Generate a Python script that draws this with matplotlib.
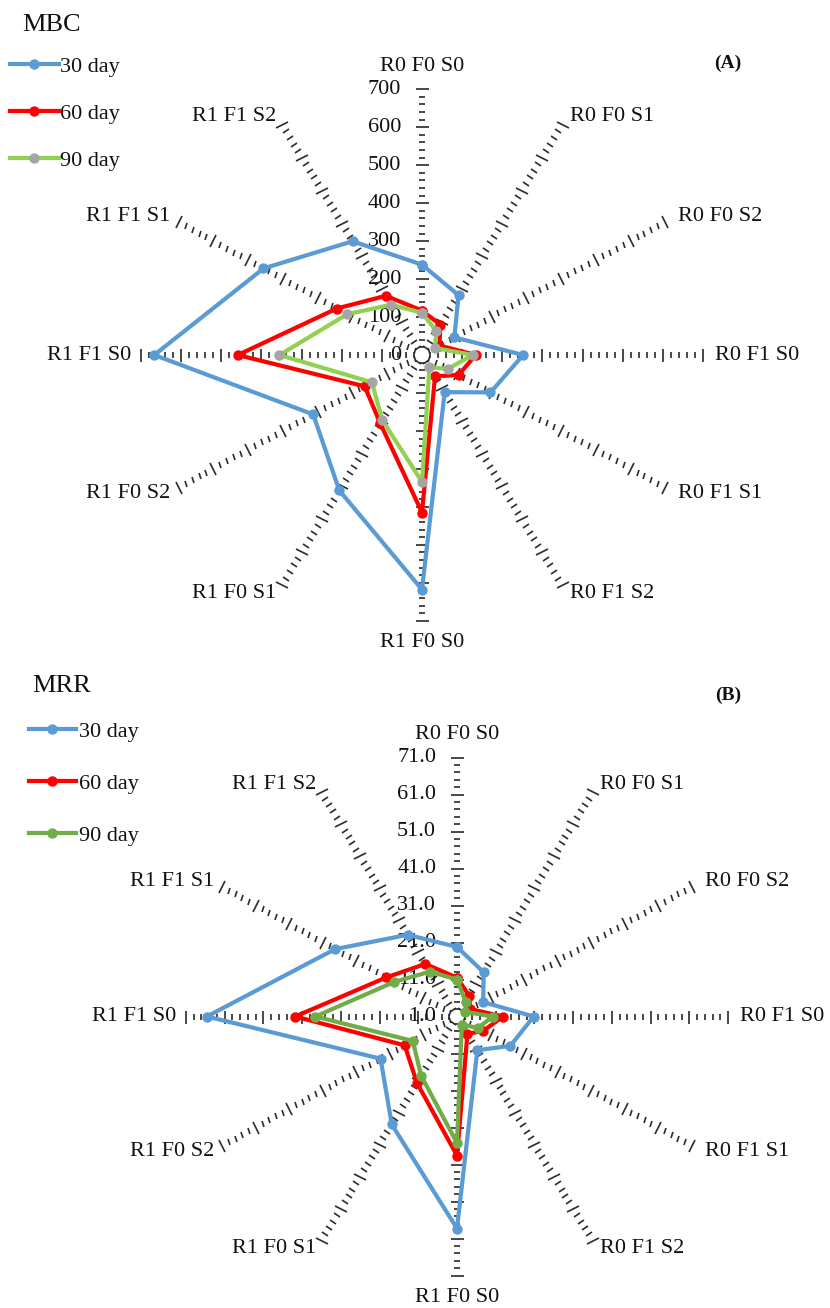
import numpy as np
import matplotlib
matplotlib.use("Agg")
import matplotlib.pyplot as plt
from matplotlib.markers import MarkerStyle
from matplotlib.transforms import Affine2D

plt.rcParams["font.family"] = ["Liberation Serif", "DejaVu Serif"]

# ---- data -------------------------------------------------------------
categories = ["R0 F0 S0", "R0 F0 S1", "R0 F0 S2", "R0 F1 S0", "R0 F1 S1", "R0 F1 S2",
              "R1 F0 S0", "R1 F0 S1", "R1 F0 S2", "R1 F1 S0", "R1 F1 S1", "R1 F1 S2"]
series_labels = ["30 day", "60 day", "90 day"]

mbc_30 = [238, 182, 93, 252, 197, 113, 618, 412, 313, 667, 456, 346]
mbc_60 = [117, 92, 50, 134, 105, 65, 415, 208, 165, 459, 245, 180]
mbc_90 = [111, 72, 37, 126, 74, 37, 334, 198, 144, 355, 215, 153]

mrr_30 = [19.8, 14.8, 8.8, 20.8, 16.9, 11.5, 58.3, 34.7, 23.8, 65.6, 37.4, 26.5]
mrr_60 = [11.5, 7.4, 5.0, 12.9, 8.8, 6.4, 38.6, 21.7, 16.6, 42.8, 22.1, 17.4]
mrr_90 = [11.0, 5.5, 3.5, 10.3, 7.2, 3.5, 35.2, 19.5, 14.2, 37.6, 19.7, 15.0]

mbc_ticks = [0, 100, 200, 300, 400, 500, 600, 700]
mbc_tick_labels = ["0", "100", "200", "300", "400", "500", "600", "700"]
mrr_ticks = [1.0, 11.0, 21.0, 31.0, 41.0, 51.0, 61.0, 71.0]
mrr_tick_labels = ["1.0", "11.0", "21.0", "31.0", "41.0", "51.0", "61.0", "71.0"]

# ---- styling ----------------------------------------------------------
W, H, DPI = 830, 1308, 100
PX = 72.0 / DPI  # points per pixel
BLUE, RED = "#5B9BD5", "#FF0000"
TEXT_C = "#111111"
TICK_C = "#2e2e2e"
FS = 16

fig = plt.figure(figsize=(W / DPI, H / DPI), dpi=DPI)
fig.patch.set_facecolor("white")

# label offsets (pixels) from the outer end of each spoke
label_offsets = [
    ((0, 23), "center"), ((7, 8), "left"), ((13, 5.5), "left"), ((12, 0), "left"),
    ((13, -5.5), "left"), ((7, -8), "left"), ((0, -22), "center"), ((-5, -8), "right"),
    ((-8, -5.5), "right"), ((-10, 0), "right"), ((-8, 5.5), "right"), ((-5, 8), "right"),
]


def radar_panel(box_px, rmin, rmax, minor, major, ticks, tick_labels, series,
                line_colors, marker_colors):
    x0, y0, x1, y1 = box_px  # pixel box: left, top, right, bottom
    rect = [x0 / W, 1 - y1 / H, (x1 - x0) / W, (y1 - y0) / H]
    ax = fig.add_axes(rect, projection="polar")
    ax.set_aspect("auto")
    ax.set_theta_zero_location("N")
    ax.set_theta_direction(-1)
    ax.set_ylim(rmin, rmax)
    ax.set_xticks([])
    ax.set_yticks([])
    ax.grid(False)
    for sp in ax.spines.values():
        sp.set_visible(False)
    ax.patch.set_visible(False)

    rx = (x1 - x0) / 2.0
    ry = (y1 - y0) / 2.0
    n = len(categories)
    theta = np.arange(n) * 2 * np.pi / n

    minor_r = np.arange(rmin + minor, rmax + minor / 2, minor)
    frac = ((minor_r - rmin) / major) % 1
    is_major = np.isclose(frac, 0) | np.isclose(frac, 1)
    # tick marks drawn across every spoke
    for i, th in enumerate(theta):
        phi = np.pi / 2 - th
        scr = np.degrees(np.arctan2(ry * np.sin(phi), rx * np.cos(phi)))
        mk = MarkerStyle("_", transform=Affine2D().rotate_deg(scr + 90))
        ax.plot(np.full((~is_major).sum(), th), minor_r[~is_major], ls="none",
                marker=mk, ms=6 * PX, mew=1.7 * PX, color=TICK_C,
                clip_on=False, zorder=1)
        ax.plot(np.full(is_major.sum(), th), minor_r[is_major], ls="none",
                marker=mk, ms=13 * PX, mew=1.7 * PX, color=TICK_C,
                clip_on=False, zorder=1)

    # value labels along the top spoke
    for v, lab in zip(ticks, tick_labels):
        ax.annotate(lab, xy=(0, v), xytext=(-15, 0), textcoords="offset points",
                    ha="right", va="center", fontsize=FS, color=TEXT_C,
                    annotation_clip=False)

    # category labels
    for th, cat, (off, ha) in zip(theta, categories, label_offsets):
        ax.annotate(cat, xy=(th, rmax), xytext=(off[0] * PX, off[1] * PX),
                    textcoords="offset points", ha=ha, va="center",
                    fontsize=FS, color=TEXT_C, annotation_clip=False)

    handles = []
    for vals, lab, lc, mc in zip(series, series_labels, line_colors, marker_colors):
        t = np.append(theta, theta[0])
        r = np.append(vals, vals[0])
        h, = ax.plot(t, r, color=lc, lw=4.2 * PX, marker="o", ms=9 * PX,
                     mfc=mc, mec=mc, label=lab, clip_on=False, zorder=3)
        handles.append(h)
    return ax, handles


# ---- (A) MBC ----------------------------------------------------------
axA, hA = radar_panel((141, 89.3, 703, 620.7), 0, 700, 20, 100,
                      mbc_ticks, mbc_tick_labels, [mbc_30, mbc_60, mbc_90],
                      [BLUE, RED, "#92D050"], [BLUE, RED, "#A5A5A5"])
axA.legend(handles=hA, loc="upper left", bbox_to_anchor=(10 / W, 1 - 56 / H),
           bbox_transform=fig.transFigure, frameon=False, fontsize=FS,
           borderpad=0, borderaxespad=0, handlelength=2.2, handletextpad=0.05,
           labelspacing=1.2, labelcolor=TEXT_C)
fig.text(22 / W, 1 - 25 / H, "MBC", fontsize=19, ha="left", va="center", color=TEXT_C)
fig.text(728 / W, 1 - 63 / H, "(A)", fontsize=14, fontweight="bold",
         ha="center", va="center", color=TEXT_C)

# ---- (B) MRR ----------------------------------------------------------
axB, hB = radar_panel((186, 757.5, 728, 1275.5), 1.0, 71.0, 2.0, 10.0,
                      mrr_ticks, mrr_tick_labels, [mrr_30, mrr_60, mrr_90],
                      [BLUE, RED, "#70AD47"], [BLUE, RED, "#70AD47"])
axB.legend(handles=hB, loc="upper left", bbox_to_anchor=(29 / W, 1 - 721 / H),
           bbox_transform=fig.transFigure, frameon=False, fontsize=FS,
           borderpad=0, borderaxespad=0, handlelength=2.1, handletextpad=0.15,
           labelspacing=1.42, labelcolor=TEXT_C)
fig.text(32 / W, 1 - 686 / H, "MRR", fontsize=19, ha="left", va="center", color=TEXT_C)
fig.text(728 / W, 1 - 695 / H, "(B)", fontsize=14, fontweight="bold",
         ha="center", va="center", color=TEXT_C)

fig.savefig("out.png", dpi=DPI, facecolor="white")
